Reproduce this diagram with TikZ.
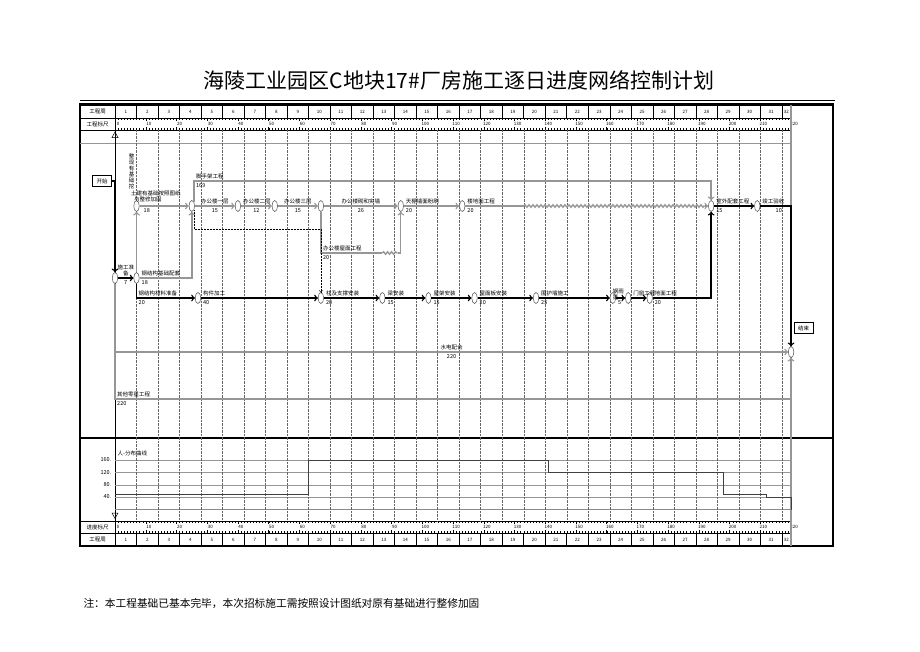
\documentclass[tikz,border=0pt]{standalone}
\usepackage{fontspec}
\setmainfont{Noto Sans CJK SC}
\usepackage{tikz}
\usetikzlibrary{shapes.geometric, arrows, decorations.pathmorphing}
\usetikzlibrary{positioning}
\definecolor{linegray}{RGB}{150,150,150}
\definecolor{zeroline}{RGB}{205,125,40}
\tikzstyle{event} = [ellipse, minimum width=5.5pt, minimum height=11pt, inner sep=0pt,
draw=black!70, fill=white, line width=0.5pt]
\tikzstyle{startstop} = [rectangle, minimum width=19pt, minimum height=11pt, inner sep=1pt,
draw=black, fill=white, font=\fontsize{5.5}{6}\selectfont]
\tikzstyle{lbl} = [font=\fontsize{5.5}{6}\selectfont, inner sep=0.5pt]
\tikzstyle{rulertxt} = [font=\fontsize{4.5}{5}\selectfont, inner sep=0pt]
\tikzstyle{txtup} = [lbl, pos=0, anchor=south west, yshift=1pt, xshift=1pt]
\tikzstyle{txtdown} = [lbl, pos=0, anchor=north west, yshift=-1.5pt, xshift=1pt]
\tikzstyle{work} = [line width=1.4pt, draw=linegray]
\tikzstyle{crit} = [line width=1.4pt, draw=black]
\tikzstyle{dummy} = [line width=0.5pt, densely dotted]
\tikzstyle{floorwave} = [decorate, decoration={snake, amplitude=1.2pt, segment length=4pt}]
\tikzstyle{weekline} = [line width=0.4pt, densely dotted, black!60]
\tikzstyle{arrow} = [->,>=to]

\begin{document}
\begin{tikzpicture}[x=1pt, y=-1pt]
    \useasboundingbox (0,0) rectangle (920,651);
    \node (title) at (459,80) {\fontsize{21}{24}\selectfont 海陵工业园区C地块17\#厂房施工逐日进度网络控制计划};
    \draw[line width=0.6pt] (80,100.5) -- (835,100.5);
    \draw[line width=2.4pt] (80,104.5) rectangle (833,546);
    \draw[line width=2pt] (80,437.5) -- (833,437.5);
    \draw[line width=0.5pt] (80,118) -- (791,118) (80,130) -- (791,130) (80,521) -- (791,521) (80,533) -- (791,533);
    \draw[linegray, line width=1pt] (80,143) -- (791,143);
    \draw[line width=0.8pt] (115,104.5) -- (115,546);
    \node (wk) [lbl] at (97.5,111.5) {工程周};
    \node (rl) [lbl] at (97.5,124) {工程标尺};
    \node (rlb) [lbl] at (97.5,527) {进度标尺};
    \node (wkb) [lbl] at (97.5,539.5) {工程周};
    \draw[line width=0.5pt] (112,137.5) -- (115,132) -- (118,137.5) -- cycle;
    \draw[line width=0.5pt] (112,513) -- (115,518.5) -- (118,513) -- cycle;

    \node (curve) [lbl, anchor=west] at (117,453) {人-分布曲线};
    \foreach \v/\y in {160/460,120/472.5,80/485,40/497}{
        \draw[linegray, line width=0.8pt] (115,\y) -- (791,\y);
        \node (ax\v) [lbl, anchor=east] at (112,\y) {\v.};
    }
    \draw[zeroline, line width=1.3pt] (115,509.5) -- (791,509.5);

    \node (start) [startstop] at (102,181) {开始};
    \node (finish) [startstop] at (803.5,328) {结束};

    \begin{scope}[shift={(115,0)}, x=3.073pt]
        \foreach \k in {1,...,31}{
            \draw[line width=0.5pt] ({7*\k},104.5) -- ({7*\k},118);
            \draw[line width=0.5pt] ({7*\k},533) -- ({7*\k},546);
            \draw[weekline] ({7*\k},130) -- ({7*\k},521);
            \node (wt\k) [rulertxt] at ({7*\k-3.5},111.5) {\k};
            \node (wb\k) [rulertxt] at ({7*\k-3.5},539.5) {\k};
        }
        \node (wt32) [rulertxt] at (218.5,111.5) {32};
        \node (wb32) [rulertxt] at (218.5,539.5) {32};
        \foreach \d in {0,...,220}{
            \draw[line width=0.3pt] (\d,118) -- (\d,119.8) (\d,130) -- (\d,128.2);
            \draw[line width=0.3pt] (\d,521) -- (\d,522.8) (\d,533) -- (\d,531.2);
        }
        \foreach \d in {0,10,...,220}{
            \draw[line width=0.4pt] (\d,118) -- (\d,121) (\d,130) -- (\d,127);
            \draw[line width=0.4pt] (\d,521) -- (\d,524) (\d,533) -- (\d,530);
            \node (ru\d) [rulertxt, fill=white, inner sep=0.3pt] at (\d+1,124) {\d};
            \node (rb\d) [rulertxt, fill=white, inner sep=0.3pt] at (\d+1,527) {\d};
        }
        \draw[linegray, line width=1.5pt] (220,104.5) -- (220,546);
        \draw[black!75, line width=0.7pt] (0,494) -- (63,494) -- (63,460) -- (141,460) -- (141,472.5)
            -- (198,472.5) -- (198,494) -- (212,494) -- (212,497) -- (220,497) -- (220,509.5);

        \node (n1) [event] at (0,278) {};
        \node (n2) [event] at (7,278) {};
        \node (n3) [event] at (7,206) {};
        \node (n4) [event] at (25,206) {};
        \node (n5) [event] at (40,206) {};
        \node (n6) [event] at (52,206) {};
        \node (n7) [event] at (67,206) {};
        \node (n8) [event] at (93,206) {};
        \node (n9) [event] at (113,206) {};
        \node (n10) [event] at (194,206) {};
        \node (n11) [event] at (209,206) {};
        \node (n12) [event] at (27,298) {};
        \node (n13) [event] at (67,298) {};
        \node (n14) [event] at (87,298) {};
        \node (n15) [event] at (102,298) {};
        \node (n16) [event] at (117,298) {};
        \node (n17) [event] at (137,298) {};
        \node (n18) [event] at (162,298) {};
        \node (n19) [event] at (167,298) {};
        \node (n20) [event] at (174,298) {};
        \node (n21) [event] at (220,352) {};
        \coordinate (scaf) at (194,181);
        \coordinate (dum) at (67,229);
        \coordinate (roof) at (87,253);
        \coordinate (roofend) at (92,253);
        \coordinate (floor) at (133,206);
        \coordinate (floorend) at (192,206);
        \coordinate (other) at (0,399);

        \node (t3c) [lbl, align=center, anchor=south] at (5.4,190) {整\\现\\有\\基\\础\\挖};
        \node (t3a) [lbl, anchor=west] at (5,193.5) {土建有基础按照图纸};
        \node (t3b) [lbl, anchor=west] at (6,199.5) {与整修加固};
        \node (t19) [lbl, align=left, anchor=south west] at (161.8,301) {钢雨\\篷};

        \draw[crit,arrow] (start) -| (n1);
        \draw[crit,arrow] (n1) -- node (t2) [lbl, above=1pt, align=center] {施工准\\备} node (d2) [lbl, below=1pt] {7} (n2);
        \draw[work,arrow] (n2) -| node (t4) [txtup] {钢结构基础配套} node (d4) [txtdown] {18} (n4);
        \draw[work,arrow] (n2) -- (n3);
        \draw[work,arrow] (n3) -- node (d3) [txtdown, xshift=2pt] {18} (n4);
        \draw[work,arrow] (n4.north east) |- node (t10) [txtup, pos=0.5] {脚手架工程} node (d10) [txtdown, pos=0.5] {169} (scaf) -| (n10);
        \draw[work,arrow] (n4) -- node (t5) [lbl, above=1pt] {办公楼一层} node (d5) [lbl, below=1pt] {15} (n5);
        \draw[work,arrow] (n5) -- node (t6) [txtup] {办公楼二层} node (d6) [lbl, below=1pt] {12} (n6);
        \draw[work,arrow] (n6) -- node (t7) [lbl, above=1pt] {办公楼三层} node (d7) [lbl, below=1pt] {15} (n7);
        \draw[work,arrow] (n7) -- node (t8) [lbl, above=1pt] {办公楼砌和实墙} node (d8) [lbl, below=1pt] {26} (n8);
        \draw[work,arrow] (n8) -- node (t9) [txtup] {天棚墙面粉刷} node (d9) [txtdown] {20} (n9);
        \draw[work] (n9) -- node (t11) [txtup] {楼地面工程} node (d11) [txtdown] {20} (floor);
        \draw[work, floorwave] (floor) -- (floorend);
        \draw[work,arrow] (floorend) -- (n10);
        \draw[crit,arrow] (n10) -- node (t12) [txtup] {室外配套工程} node (d12) [txtdown] {15} (n11);
        \draw[crit,arrow] (n11) -| node (t13) [txtup] {竣工验收} node (d13) [lbl, below=1pt, pos=0.3] {10} (n21);
        \draw[work] (n7) |- node (t14) [txtup, pos=0.5] {办公楼屋面工程} node (d14) [txtdown, pos=0.5] {20} (roof);
        \draw[work, floorwave] (roof) -- (roofend);
        \draw[work,arrow] (roofend) -| (n8);
        \draw[dummy,arrow] (n4.south east) |- (dum) -- (n13);
        \draw[crit,arrow] (n2) |- node (t15) [txtup, pos=0.5] {钢结构材料准备} node (d15) [txtdown, pos=0.5] {20} (n12);
        \draw[crit,arrow] (n12) -- node (t16) [txtup] {构件加工} node (d16) [txtdown] {40} (n13);
        \draw[crit,arrow] (n13) -- node (t17) [txtup] {柱及支撑安装} node (d17) [txtdown] {20} (n14);
        \draw[crit,arrow] (n14) -- node (t18) [txtup] {梁安装} node (d18) [txtdown] {15} (n15);
        \draw[crit,arrow] (n15) -- node (t20) [txtup] {屋架安装} node (d20) [txtdown] {15} (n16);
        \draw[crit,arrow] (n16) -- node (t21) [txtup] {屋面板安装} node (d21) [txtdown] {20} (n17);
        \draw[crit,arrow] (n17) -- node (t22) [txtup] {围护墙施工} node (d22) [txtdown] {25} (n18);
        \draw[crit,arrow] (n18) -- node (d19) [txtdown] {5} (n19);
        \draw[crit,arrow] (n19) -- node (t23) [txtup] {门窗工程} (n20);
        \draw[crit,arrow] (n20) -| node (t24) [txtup] {地面工程} node (d24) [txtdown] {20} (n10);
        \draw[work,arrow] (n1) |- node (t25) [lbl, above=1pt, pos=0.75] {水电配合} node (d25) [lbl, below=1pt, pos=0.75] {220} (n21);
        \draw[work,arrow] (n1) -- (other) -| node (t26) [txtup] {其他零星工程} node (d26) [txtdown] {220} (n21);
    \end{scope}

    \node (note) [anchor=west] at (80,604) {\fontsize{10.7}{12}\selectfont 注：本工程基础已基本完毕，本次招标施工需按照设计图纸对原有基础进行整修加固};
\end{tikzpicture}
\end{document}
